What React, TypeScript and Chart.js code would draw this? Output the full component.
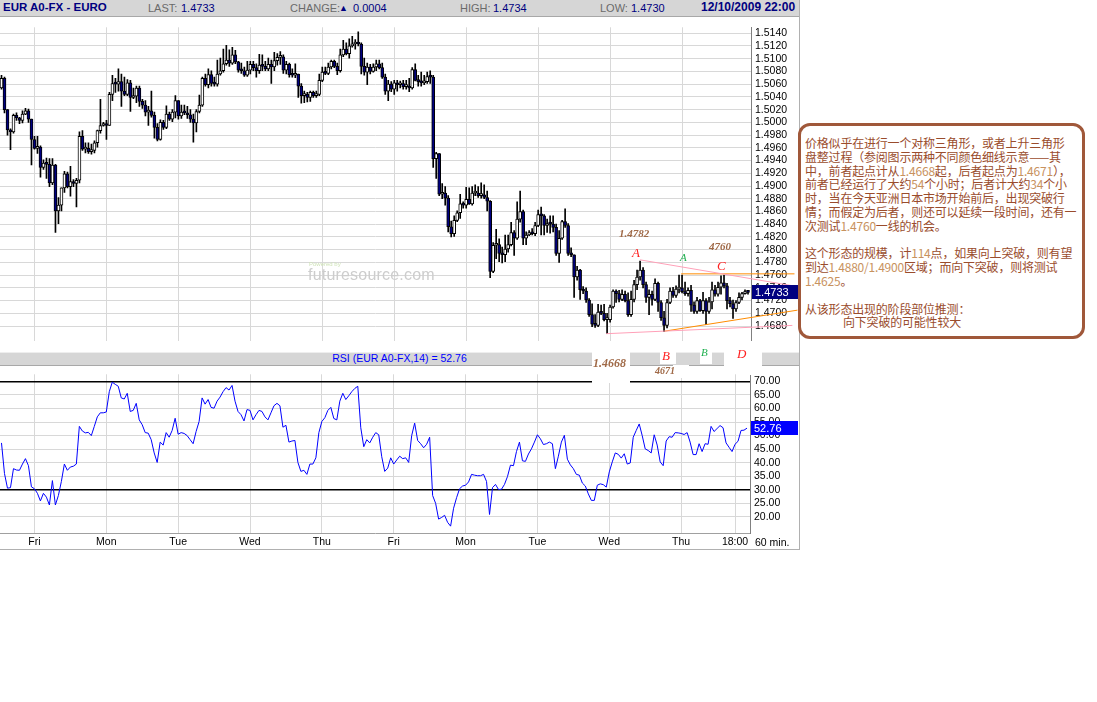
import React, { useEffect, useRef } from "react";
import { Chart, registerables } from "chart.js";
Chart.register(...registerables);

// Hourly EUR/USD candles (index 0 = Thu 13:00 ... 249 = Thu 22:00)
const firstOpen = 1.5054;
const closes = [
  1.5069, 1.5020, 1.4988, 1.4985, 1.5011, 1.5007, 1.5003, 1.5013, 1.5018, 1.5005,
  1.4973, 1.4959, 1.4961, 1.4929, 1.4936, 1.4934, 1.4905, 1.4933, 1.4861, 1.4870,
  1.4897, 1.4919, 1.4899, 1.4907, 1.4904, 1.4909, 1.4978, 1.4958, 1.4959, 1.4954,
  1.4956, 1.4968, 1.4987, 1.4995, 1.4998, 1.4995, 1.5044, 1.5061, 1.5060, 1.5064,
  1.5049, 1.5044, 1.5062, 1.5039, 1.5041, 1.5054, 1.5033, 1.5027, 1.5016, 1.5018,
  1.5011, 1.4992, 1.4973, 1.5000, 1.4992, 1.5013, 1.5005, 1.5016, 1.5034, 1.5010,
  1.5016, 1.5015, 1.5012, 1.5005, 1.4999, 1.5017, 1.5027, 1.5069, 1.5059, 1.5075,
  1.5061, 1.5060, 1.5076, 1.5081, 1.5092, 1.5098, 1.5093, 1.5106, 1.5095, 1.5082,
  1.5081, 1.5074, 1.5082, 1.5091, 1.5086, 1.5081, 1.5090, 1.5088, 1.5084, 1.5091,
  1.5087, 1.5097, 1.5102, 1.5103, 1.5082, 1.5091, 1.5075, 1.5074, 1.5076, 1.5057,
  1.5042, 1.5044, 1.5039, 1.5047, 1.5042, 1.5044, 1.5066, 1.5079, 1.5077, 1.5087,
  1.5096, 1.5088, 1.5081, 1.5106, 1.5115, 1.5108, 1.5120, 1.5123, 1.5124, 1.5123,
  1.5088, 1.5079, 1.5087, 1.5080, 1.5087, 1.5092, 1.5086, 1.5071, 1.5049, 1.5060,
  1.5052, 1.5062, 1.5059, 1.5061, 1.5056, 1.5057, 1.5054, 1.5083, 1.5066, 1.5064,
  1.5062, 1.5064, 1.5072, 1.5071, 1.4943, 1.4951, 1.4887, 1.4889, 1.4881, 1.4836,
  1.4825, 1.4846, 1.4858, 1.4872, 1.4870, 1.4879, 1.4872, 1.4889, 1.4889, 1.4885,
  1.4886, 1.4882, 1.4876, 1.4766, 1.4807, 1.4808, 1.4794, 1.4792, 1.4801, 1.4808,
  1.4827, 1.4818, 1.4848, 1.4860, 1.4818, 1.4823, 1.4827, 1.4825, 1.4838, 1.4855,
  1.4853, 1.4838, 1.4841, 1.4840, 1.4835, 1.4794, 1.4818, 1.4844, 1.4838, 1.4794,
  1.4792, 1.4757, 1.4768, 1.4737, 1.4735, 1.4721, 1.4698, 1.4683, 1.4681, 1.4702,
  1.4700, 1.4690, 1.4690, 1.4710, 1.4735, 1.4731, 1.4722, 1.4730, 1.4720, 1.4698,
  1.4722, 1.4745, 1.4757, 1.4768, 1.4745, 1.4725, 1.4730, 1.4722, 1.4747, 1.4717,
  1.4693, 1.4681, 1.4717, 1.4735, 1.4728, 1.4738, 1.4740, 1.4734, 1.4731, 1.4736,
  1.4713, 1.4703, 1.4720, 1.4704, 1.4720, 1.4703, 1.4718, 1.4737, 1.4730, 1.4741,
  1.4748, 1.4743, 1.4720, 1.4715, 1.4707, 1.4717, 1.4725, 1.4731, 1.4734, 1.4733,
];
const highs = [
  1.5074, 1.5071, 1.5020, 1.4990, 1.5013, 1.5015, 1.5008, 1.5018, 1.5022, 1.5021,
  1.5005, 1.4978, 1.4978, 1.4963, 1.4941, 1.4944, 1.4943, 1.4943, 1.4934, 1.4882,
  1.4897, 1.4923, 1.4922, 1.4931, 1.4910, 1.4912, 1.4985, 1.4987, 1.4968, 1.4968,
  1.4966, 1.4971, 1.4988, 1.5036, 1.5000, 1.5003, 1.5047, 1.5074, 1.5069, 1.5084,
  1.5076, 1.5071, 1.5067, 1.5066, 1.5054, 1.5057, 1.5057, 1.5036, 1.5034, 1.5025,
  1.5049, 1.5016, 1.4998, 1.5004, 1.5003, 1.5026, 1.5016, 1.5020, 1.5042, 1.5033,
  1.5027, 1.5027, 1.5025, 1.5020, 1.5013, 1.5020, 1.5043, 1.5071, 1.5076, 1.5084,
  1.5081, 1.5071, 1.5098, 1.5101, 1.5115, 1.5121, 1.5114, 1.5118, 1.5113, 1.5096,
  1.5093, 1.5087, 1.5096, 1.5096, 1.5096, 1.5092, 1.5107, 1.5106, 1.5096, 1.5101,
  1.5098, 1.5110, 1.5108, 1.5111, 1.5106, 1.5096, 1.5093, 1.5084, 1.5092, 1.5076,
  1.5061, 1.5049, 1.5047, 1.5049, 1.5049, 1.5049, 1.5076, 1.5087, 1.5087, 1.5093,
  1.5098, 1.5098, 1.5093, 1.5115, 1.5129, 1.5125, 1.5131, 1.5135, 1.5130, 1.5142,
  1.5125, 1.5101, 1.5093, 1.5091, 1.5092, 1.5098, 1.5098, 1.5093, 1.5076, 1.5066,
  1.5064, 1.5066, 1.5066, 1.5065, 1.5066, 1.5066, 1.5069, 1.5086, 1.5092, 1.5074,
  1.5079, 1.5074, 1.5079, 1.5081, 1.5074, 1.4953, 1.4951, 1.4904, 1.4899, 1.4885,
  1.4845, 1.4853, 1.4861, 1.4887, 1.4875, 1.4898, 1.4897, 1.4899, 1.4902, 1.4899,
  1.4905, 1.4902, 1.4892, 1.4877, 1.4811, 1.4832, 1.4817, 1.4804, 1.4823, 1.4823,
  1.4843, 1.4830, 1.4875, 1.4892, 1.4862, 1.4828, 1.4830, 1.4833, 1.4843, 1.4862,
  1.4867, 1.4855, 1.4848, 1.4853, 1.4853, 1.4840, 1.4830, 1.4846, 1.4864, 1.4841,
  1.4803, 1.4792, 1.4774, 1.4769, 1.4742, 1.4740, 1.4723, 1.4715, 1.4698, 1.4714,
  1.4713, 1.4714, 1.4700, 1.4713, 1.4737, 1.4737, 1.4736, 1.4737, 1.4735, 1.4732,
  1.4735, 1.4752, 1.4768, 1.4782, 1.4772, 1.4749, 1.4737, 1.4735, 1.4754, 1.4749,
  1.4720, 1.4703, 1.4722, 1.4740, 1.4741, 1.4743, 1.4760, 1.4760, 1.4749, 1.4740,
  1.4744, 1.4718, 1.4725, 1.4722, 1.4733, 1.4723, 1.4725, 1.4749, 1.4744, 1.4749,
  1.4759, 1.4760, 1.4747, 1.4725, 1.4721, 1.4720, 1.4732, 1.4733, 1.4737, 1.4735,
];
const lows = [
  1.5052, 1.5015, 1.4980, 1.4957, 1.4983, 1.5003, 1.4998, 1.4999, 1.5012, 1.5000,
  1.4933, 1.4958, 1.4951, 1.4914, 1.4926, 1.4912, 1.4899, 1.4902, 1.4827, 1.4841,
  1.4861, 1.4890, 1.4897, 1.4884, 1.4899, 1.4867, 1.4905, 1.4956, 1.4952, 1.4951,
  1.4950, 1.4952, 1.4961, 1.4983, 1.4994, 1.4973, 1.4995, 1.5034, 1.5047, 1.5049,
  1.5025, 1.5042, 1.5042, 1.5017, 1.5037, 1.5031, 1.5025, 1.5022, 1.5010, 1.4995,
  1.5008, 1.4975, 1.4971, 1.4972, 1.4989, 1.4990, 1.5003, 1.5001, 1.5007, 1.5005,
  1.5006, 1.5012, 1.5006, 1.5000, 1.4969, 1.4985, 1.5015, 1.5025, 1.5057, 1.5054,
  1.5057, 1.5057, 1.5057, 1.5074, 1.5079, 1.5090, 1.5088, 1.5091, 1.5092, 1.5079,
  1.5077, 1.5072, 1.5072, 1.5076, 1.5081, 1.5071, 1.5077, 1.5081, 1.5081, 1.5081,
  1.5061, 1.5081, 1.5090, 1.5091, 1.5077, 1.5076, 1.5071, 1.5071, 1.5070, 1.5039,
  1.5030, 1.5031, 1.5032, 1.5033, 1.5039, 1.5039, 1.5042, 1.5064, 1.5075, 1.5075,
  1.5084, 1.5086, 1.5075, 1.5079, 1.5103, 1.5106, 1.5101, 1.5118, 1.5115, 1.5120,
  1.5076, 1.5074, 1.5059, 1.5076, 1.5079, 1.5081, 1.5084, 1.5069, 1.5044, 1.5034,
  1.5048, 1.5044, 1.5049, 1.5054, 1.5052, 1.5052, 1.5048, 1.5052, 1.5065, 1.5057,
  1.5057, 1.5059, 1.5061, 1.5061, 1.4929, 1.4912, 1.4885, 1.4880, 1.4870, 1.4828,
  1.4820, 1.4821, 1.4844, 1.4849, 1.4865, 1.4865, 1.4871, 1.4870, 1.4885, 1.4882,
  1.4881, 1.4880, 1.4861, 1.4756, 1.4764, 1.4786, 1.4781, 1.4779, 1.4781, 1.4796,
  1.4806, 1.4791, 1.4816, 1.4843, 1.4808, 1.4808, 1.4822, 1.4823, 1.4822, 1.4836,
  1.4823, 1.4823, 1.4827, 1.4826, 1.4828, 1.4791, 1.4780, 1.4816, 1.4835, 1.4791,
  1.4789, 1.4725, 1.4752, 1.4722, 1.4731, 1.4717, 1.4695, 1.4679, 1.4678, 1.4679,
  1.4698, 1.4688, 1.4668, 1.4686, 1.4708, 1.4717, 1.4718, 1.4720, 1.4718, 1.4695,
  1.4695, 1.4718, 1.4737, 1.4752, 1.4740, 1.4717, 1.4698, 1.4713, 1.4720, 1.4703,
  1.4689, 1.4671, 1.4677, 1.4715, 1.4725, 1.4725, 1.4732, 1.4732, 1.4728, 1.4727,
  1.4703, 1.4700, 1.4700, 1.4703, 1.4700, 1.4682, 1.4700, 1.4707, 1.4727, 1.4727,
  1.4730, 1.4740, 1.4707, 1.4710, 1.4692, 1.4703, 1.4715, 1.4721, 1.4730, 1.4730,
];
const rsiValues = [
  47.3, 36.0, 30.6, 30.8, 37.8, 37.3, 37.2, 39.5, 41.5, 38.9,
  31.1, 30.4, 28.7, 25.9, 28.7, 27.3, 24.4, 33.4, 24.4, 27.9,
  33.1, 39.5, 37.2, 38.4, 38.7, 39.5, 53.4, 51.7, 51.0, 51.2,
  50.0, 53.4, 56.9, 58.4, 58.4, 58.7, 66.2, 69.7, 68.9, 68.2,
  63.9, 63.5, 65.6, 58.9, 59.3, 61.9, 55.8, 54.0, 51.1, 50.9,
  48.5, 43.6, 40.1, 47.6, 46.5, 51.1, 49.4, 51.9, 56.4, 50.5,
  51.1, 50.8, 50.0, 48.5, 47.0, 51.5, 55.2, 63.9, 61.6, 63.3,
  60.4, 60.1, 62.7, 64.2, 66.2, 67.7, 66.8, 68.5, 62.7, 58.9,
  57.7, 55.4, 59.6, 59.3, 55.8, 57.7, 59.3, 58.9, 56.9, 55.8,
  58.4, 61.0, 61.9, 61.0, 53.1, 53.8, 47.6, 48.0, 48.2, 40.1,
  36.8, 37.2, 35.7, 39.5, 39.5, 41.8, 51.1, 55.2, 56.6, 59.3,
  60.4, 56.3, 55.8, 62.7, 65.6, 63.3, 64.7, 66.2, 67.4, 68.2,
  52.9, 45.9, 48.5, 47.3, 49.4, 51.1, 50.3, 42.2, 36.8, 38.0,
  41.8, 39.5, 41.0, 42.4, 41.5, 41.8, 40.1, 50.0, 54.6, 48.2,
  47.0, 45.5, 46.8, 49.4, 27.9, 25.0, 19.2, 19.8, 20.6, 18.0,
  16.6, 23.2, 27.1, 30.4, 31.4, 31.7, 32.9, 35.7, 35.4, 35.2,
  35.2, 35.7, 33.1, 20.9, 30.8, 32.0, 30.1, 30.2, 32.0, 34.9,
  39.1, 38.9, 44.1, 47.6, 40.7, 40.5, 43.2, 45.1, 47.6, 50.3,
  48.8, 46.7, 47.0, 47.6, 47.0, 37.8, 42.4, 47.6, 50.1, 41.3,
  39.2, 37.8, 35.7, 35.4, 32.5, 31.4, 28.5, 26.1, 26.1, 31.7,
  32.2, 31.9, 31.0, 36.6, 40.3, 43.6, 43.1, 41.7, 43.3, 39.5,
  39.9, 49.4, 51.9, 54.3, 50.0, 45.1, 44.5, 43.6, 50.3, 46.5,
  40.3, 38.9, 48.0, 49.6, 49.4, 51.1, 51.0, 50.8, 50.4, 51.1,
  47.6, 43.0, 43.0, 47.0, 44.1, 47.0, 46.8, 53.4, 51.5, 52.6,
  53.7, 52.9, 47.3, 45.7, 44.1, 46.8, 47.9, 51.9, 52.0, 52.76,
];

const dayTickIdx = [11, 35, 59, 83, 107, 131, 155, 179, 203, 227];
const dayLabels = ["Fri", "Mon", "Tue", "Wed", "Thu", "Fri", "Mon", "Tue", "Wed", "Thu"];
const lastHourIdx = 245;
const lastHourLabel = "18:00";
const priceTicks = [
  1.468, 1.47, 1.472, 1.474, 1.476, 1.478, 1.48, 1.482, 1.484, 1.486, 1.488, 1.49,
  1.492, 1.494, 1.496, 1.498, 1.5, 1.502, 1.504, 1.506, 1.508, 1.51, 1.512, 1.514,
];
const rsiTicks = [20, 25, 30, 35, 40, 45, 50, 55, 60, 65, 70];
const rsiRefLines = [30, 70];

// triangle guide lines (index, price)
const pinkUpper = [{ x: 213, y: 1.4784 }, { x: 265.5, y: 1.4742 }];
const pinkLower = [{ x: 201.7, y: 1.4668 }, { x: 263.8, y: 1.4681 }];
const orangeFlat = [{ x: 226.7, y: 1.4762 }, { x: 264.5, y: 1.4762 }];
const orangeRise = [{ x: 221.2, y: 1.4672 }, { x: 265.5, y: 1.4705 }];

const lastPrice = 1.4733;
const lastRsi = 52.76;

const AXIS_FONT = '"Liberation Sans", Arial, sans-serif';

function valueBox(id: string, axis: string, value: number, text: string, bg: string) {
  return {
    id,
    afterDraw(chart: any) {
      const { ctx, chartArea } = chart;
      const s = chart.scales[axis];
      const py = Math.round(s.getPixelForValue(value));
      ctx.save();
      ctx.fillStyle = bg;
      ctx.fillRect(chartArea.right + 1, py - 7, 47, 14);
      ctx.fillStyle = "#ffffff";
      ctx.font = "11px " + AXIS_FONT;
      ctx.textBaseline = "middle";
      ctx.fillText(text, chartArea.right + 4, py + 0.5);
      ctx.restore();
    },
  };
}

export default function App() {
  const priceRef = useRef<HTMLCanvasElement>(null);
  const rsiRef = useRef<HTMLCanvasElement>(null);

  useEffect(() => {
    const opens = closes.map((c, i) => (i === 0 ? firstOpen : closes[i - 1]));
    const bodies = closes.map((c, i) => ({ x: i, y: [opens[i], c] }));
    const wicks = closes.map((c, i) => ({
      x: i,
      y: [Math.min(lows[i], opens[i], c), Math.max(highs[i], opens[i], c)],
    }));
    const bodyColors = closes.map((c, i) => (c >= opens[i] ? "#ffffff" : "#000080"));

    const lineDs = (data: any, color: string) => ({
      type: "line",
      data,
      borderColor: color,
      borderWidth: 1,
      pointRadius: 0,
      clip: false,
      order: -1,
    });

    const priceChart = new Chart(priceRef.current as HTMLCanvasElement, {
      type: "bar",
      data: {
        datasets: [
          lineDs(pinkUpper, "#ffa0b8"),
          lineDs(pinkLower, "#ffa0b8"),
          lineDs(orangeFlat, "#ff8c00"),
          lineDs(orangeRise, "#ff8c00"),
          {
            type: "bar",
            data: bodies,
            backgroundColor: bodyColors,
            borderColor: "#000000",
            borderWidth: 1,
            borderSkipped: false,
            barThickness: 3,
            minBarLength: 2,
            grouped: false,
            order: 0,
          },
          {
            type: "bar",
            data: wicks,
            backgroundColor: "#000000",
            borderWidth: 0,
            barThickness: 1,
            grouped: false,
            order: 1,
          },
        ] as any,
      },
      options: {
        animation: false,
        responsive: false,
        maintainAspectRatio: false,
        layout: { padding: 0 },
        plugins: { legend: { display: false }, tooltip: { enabled: false } },
        scales: {
          x: {
            type: "linear",
            min: -0.5,
            max: 250,
            offset: false,
            afterBuildTicks: (s: any) => {
              s.ticks = dayTickIdx.map((v) => ({ value: v }));
            },
            ticks: { display: false },
            grid: { color: "#d8d8d8", drawTicks: false, offset: false },
            border: { display: false },
            afterFit: (s: any) => {
              s.height = 0;
            },
          },
          y: {
            position: "right",
            min: 1.4657,
            max: 1.51493,
            afterBuildTicks: (s: any) => {
              s.ticks = priceTicks.map((v) => ({ value: v }));
            },
            ticks: {
              autoSkip: false,
              callback: (v: any) => Number(v).toFixed(4),
              font: { size: 10.5, family: AXIS_FONT },
              color: "#000000",
              padding: 4,
            },
            grid: { color: "#d8d8d8", drawTicks: false },
            border: { color: "#808080" },
            afterFit: (s: any) => {
              s.width = 49;
            },
          },
        },
      } as any,
      plugins: [valueBox("lastPrice", "y", lastPrice, lastPrice.toFixed(4), "#000080")],
    });

    const rsiTickIdx = [...dayTickIdx, lastHourIdx];
    const rsiTickLabels = [...dayLabels, lastHourLabel];
    const rsiChart = new Chart(rsiRef.current as HTMLCanvasElement, {
      type: "line",
      data: {
        datasets: [
          {
            data: rsiValues.map((v, i) => ({ x: i, y: v })),
            borderColor: "#0000ff",
            borderWidth: 1,
            pointRadius: 0,
            tension: 0,
          },
        ],
      },
      options: {
        animation: false,
        responsive: false,
        maintainAspectRatio: false,
        layout: { padding: { top: 1, left: 0, right: 0, bottom: 0 } },
        plugins: { legend: { display: false }, tooltip: { enabled: false } },
        scales: {
          x: {
            type: "linear",
            min: -0.5,
            max: 250,
            offset: false,
            afterBuildTicks: (s: any) => {
              s.ticks = rsiTickIdx.map((v) => ({ value: v }));
            },
            ticks: {
              autoSkip: false,
              maxRotation: 0,
              callback: (_v: any, i: number) => rsiTickLabels[i],
              font: { size: 10.5, family: AXIS_FONT },
              color: "#000000",
              padding: 3,
            },
            grid: { color: "#d8d8d8", drawTicks: false, offset: false },
            border: { color: "#a0a0a0" },
            afterFit: (s: any) => {
              s.height = 17;
            },
          },
          y: {
            position: "right",
            min: 14.07,
            max: 72.61,
            afterBuildTicks: (s: any) => {
              s.ticks = rsiTicks.map((v) => ({ value: v }));
            },
            ticks: {
              autoSkip: false,
              callback: (v: any) => Number(v).toFixed(2),
              font: { size: 10.5, family: AXIS_FONT },
              color: "#000000",
              padding: 4,
            },
            grid: {
              drawTicks: false,
              color: (c: any) => (rsiRefLines.includes(c.tick && c.tick.value) ? "#000000" : "#d8d8d8"),
              lineWidth: (c: any) => (rsiRefLines.includes(c.tick && c.tick.value) ? 1.5 : 1),
            },
            border: { color: "#808080" },
            afterFit: (s: any) => {
              s.width = 49;
            },
          },
        },
      } as any,
      plugins: [valueBox("lastRsi", "y", lastRsi, lastRsi.toFixed(2), "#0000ff")],
    });

    return () => {
      priceChart.destroy();
      rsiChart.destroy();
    };
  }, []);

  const hdrLabel: React.CSSProperties = {
    position: "absolute",
    top: 2,
    fontFamily: AXIS_FONT,
    fontSize: 11,
    color: "#6a6a6a",
    whiteSpace: "nowrap",
  };
  const hdrValue: React.CSSProperties = { ...hdrLabel, color: "#000080" };
  const serifNum: React.CSSProperties = {
    position: "absolute",
    fontFamily: '"Liberation Serif", "Times New Roman", serif',
    fontStyle: "italic",
    fontWeight: "bold",
    fontSize: 11,
    color: "#a06a48",
    whiteSpace: "nowrap",
    lineHeight: "12px",
  };
  const serifLetter: React.CSSProperties = {
    position: "absolute",
    fontFamily: '"Liberation Serif", "Times New Roman", serif',
    fontStyle: "italic",
    fontSize: 13,
    lineHeight: "13px",
    whiteSpace: "nowrap",
  };
  const whiteBox = (left: number, top: number, width: number, height: number): React.CSSProperties => ({
    position: "absolute",
    left,
    top,
    width,
    height,
    background: "#ffffff",
  });
  const num: React.CSSProperties = { color: "#c8925e" };

  return (
    <div
      style={{
        position: "absolute",
        left: 0,
        top: 0,
        width: 1097,
        height: 702,
        background: "#ffffff",
        overflow: "hidden",
      }}
    >
      {/* chart frame */}
      <div
        style={{
          position: "absolute",
          left: 0,
          top: 0,
          width: 800,
          height: 550,
          boxSizing: "border-box",
          borderRight: "1px solid #b0b0b0",
          borderBottom: "1px solid #b0b0b0",
        }}
      />
      {/* header bar */}
      <div
        style={{
          position: "absolute",
          left: 0,
          top: 0,
          width: 799,
          height: 16,
          background: "#d6d6d6",
          borderBottom: "1px solid #a8a8a8",
        }}
      >
        <span style={{ ...hdrValue, left: 3, top: 1, fontWeight: "bold", fontSize: 11.5 }}>EUR A0-FX - EURO</span>
        <span style={{ ...hdrLabel, left: 148 }}>LAST:</span>
        <span style={{ ...hdrValue, left: 181 }}>1.4733</span>
        <span style={{ ...hdrLabel, left: 290 }}>CHANGE:</span>
        <span style={{ ...hdrValue, left: 339, fontSize: 9, top: 3 }}>▲</span>
        <span style={{ ...hdrValue, left: 353 }}>0.0004</span>
        <span style={{ ...hdrLabel, left: 460 }}>HIGH:</span>
        <span style={{ ...hdrValue, left: 493 }}>1.4734</span>
        <span style={{ ...hdrLabel, left: 600 }}>LOW:</span>
        <span style={{ ...hdrValue, left: 631 }}>1.4730</span>
        <span style={{ ...hdrValue, left: 701, top: 0, fontWeight: "bold", fontSize: 12 }}>12/10/2009 22:00</span>
      </div>

      {/* price panel */}
      <canvas
        ref={priceRef}
        width={800}
        height={334}
        style={{ position: "absolute", left: 0, top: 17, width: 800, height: 334 }}
      />

      {/* watermark */}
      <div
        style={{
          position: "absolute",
          left: 309,
          top: 261,
          fontFamily: AXIS_FONT,
          fontSize: 6,
          color: "#cfe3b8",
        }}
      >
        Powered by
      </div>
      <div
        style={{
          position: "absolute",
          left: 308,
          top: 266,
          fontFamily: AXIS_FONT,
          fontSize: 16,
          color: "#cdcdcd",
          letterSpacing: 0.2,
        }}
      >
        futuresource.com
      </div>

      {/* RSI header */}
      <div
        style={{
          position: "absolute",
          left: 0,
          top: 352,
          width: 799,
          height: 12,
          background: "#d6d6d6",
          borderTop: "1px solid #eeeeee",
          borderBottom: "1px solid #a8a8a8",
          textAlign: "center",
        }}
      >
        <span
          style={{
            position: "absolute",
            left: 0,
            width: 799,
            top: -1,
            fontFamily: AXIS_FONT,
            fontSize: 10.5,
            color: "#0000ff",
            textAlign: "center",
          }}
        >
          RSI (EUR A0-FX,14) = 52.76
        </span>
      </div>

      {/* RSI panel */}
      <canvas
        ref={rsiRef}
        width={799}
        height={186}
        style={{ position: "absolute", left: 0, top: 364, width: 799, height: 186 }}
      />
      <div
        style={{
          position: "absolute",
          left: 755,
          top: 536,
          fontFamily: AXIS_FONT,
          fontSize: 10.5,
          color: "#000000",
          whiteSpace: "nowrap",
        }}
      >
        60 min.
      </div>

      {/* annotations on chart */}
      <div style={{ ...serifNum, left: 619, top: 227 }}>1.4782</div>
      <div style={{ ...serifLetter, left: 632, top: 246, color: "#ff2020" }}>A</div>
      <div style={{ ...serifLetter, left: 680, top: 251, color: "#20b050", fontSize: 11 }}>A</div>
      <div style={{ ...serifNum, left: 709, top: 240 }}>4760</div>
      <div style={{ ...serifLetter, left: 717, top: 259, color: "#ff2020" }}>C</div>

      <div style={whiteBox(592, 352, 38, 31)} />
      <div style={{ ...serifNum, left: 593, top: 357, fontSize: 12 }}>1.4668</div>
      <div style={whiteBox(660, 351, 16, 13)} />
      <div style={{ ...serifLetter, left: 662, top: 349, color: "#ff2020" }}>B</div>
      <div style={whiteBox(673, 365, 16, 13)} />
      <div style={{ ...serifNum, left: 655, top: 365, fontSize: 10 }}>4671</div>
      <div style={whiteBox(700, 351, 12, 13)} />
      <div style={{ ...serifLetter, left: 701, top: 346, color: "#20b050", fontSize: 11 }}>B</div>
      <div style={whiteBox(724, 351, 38, 16)} />
      <div style={whiteBox(738, 366, 24, 9)} />
      <div style={{ ...serifLetter, left: 737, top: 347, color: "#ff2020" }}>D</div>

      {/* commentary box */}
      <div
        style={{
          position: "absolute",
          left: 798,
          top: 123,
          width: 287,
          height: 216,
          boxSizing: "border-box",
          border: "3px solid #a0583a",
          borderRadius: 12,
          background: "#ffffff",
          padding: "10px 0 0 4px",
          fontFamily: '"Noto Sans CJK SC", "Noto Sans", sans-serif',
          fontSize: 12,
          lineHeight: "13.8px",
          color: "#9a4c2c",
          whiteSpace: "nowrap",
          letterSpacing: -0.2,
        }}
      >
        价格似乎在进行一个对称三角形，或者上升三角形
        <br />
        盘整过程（参阅图示两种不同颜色细线示意——其
        <br />
        中，前者起点计从<span style={num}>1.4668</span>起，后者起点为<span style={num}>1.4671</span>），
        <br />
        前者已经运行了大约<span style={num}>54</span>个小时；后者计大约<span style={num}>34</span>个小
        <br />
        时，当在今天亚洲日本市场开始前后，出现突破行
        <br />
        情；而假定为后者，则还可以延续一段时间，还有一
        <br />
        次测试<span style={num}>1.4760</span>一线的机会。
        <br />
        <br />
        这个形态的规模，计<span style={num}>114</span>点，如果向上突破，则有望
        <br />
        到达<span style={num}>1.4880/1.4900</span>区域；而向下突破，则将测试
        <br />
        <span style={num}>1.4625</span>。
        <br />
        <br />
        从该形态出现的阶段部位推测：
        <br />
        <span style={{ paddingLeft: 38 }}>向下突破的可能性较大</span>
      </div>
    </div>
  );
}
